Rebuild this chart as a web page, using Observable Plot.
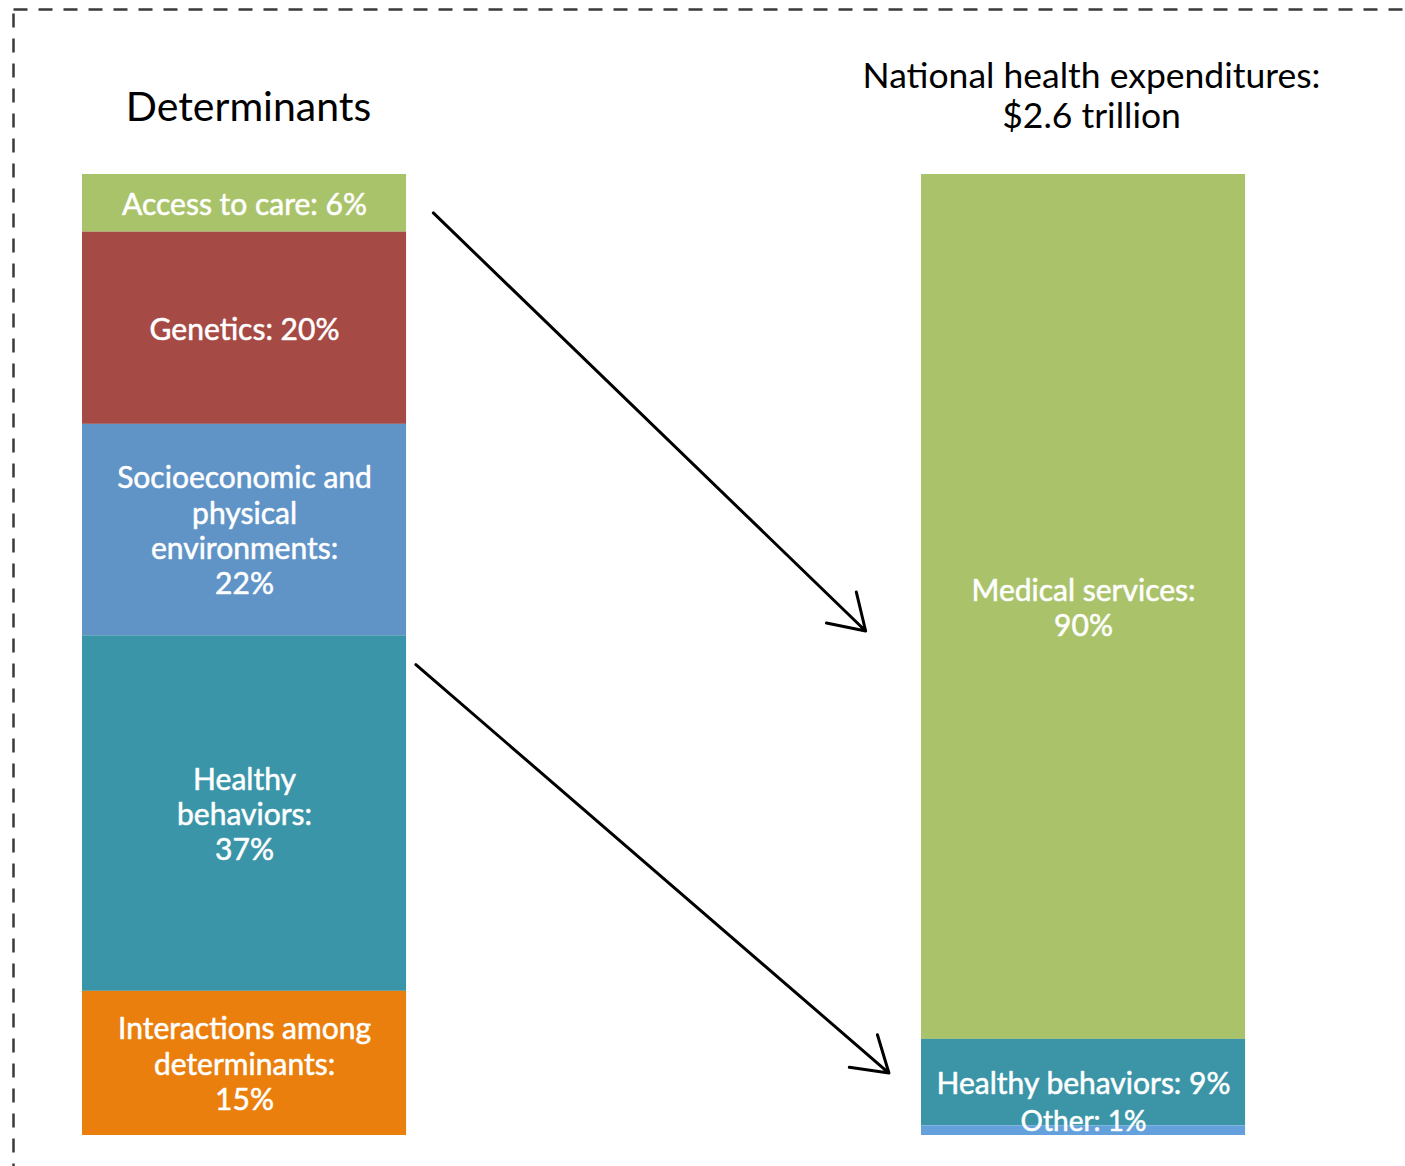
<!DOCTYPE html>
<html><head><meta charset="utf-8">
<script src="https://cdn.jsdelivr.net/npm/d3@7"></script>
<script src="https://cdn.jsdelivr.net/npm/@observablehq/plot@0.6"></script>
<style>body{margin:0;background:#fff;}</style>
</head><body><div id="chart"></div>
<script>
// ---- data ----
const groups = ["Determinants", "National health expenditures"];
const groupTitles = ["Determinants", "National health expenditures:\n$2.6 trillion"];

const detCategories = ["Access to care", "Genetics", "Socioeconomic and physical environments", "Healthy behaviors", "Interactions among determinants"];
const detValues = [6, 20, 22, 37, 15];
const detLabels = ["Access to care: 6%", "Genetics: 20%", "Socioeconomic and\nphysical\nenvironments:\n22%", "Healthy\nbehaviors:\n37%", "Interactions among\ndeterminants:\n15%"];
const detColors = ["#a9c36a", "#a54a45", "#6093c6", "#3b95a8", "#ea7f0d"];

const expCategories = ["Medical services", "Healthy behaviors", "Other"];
const expValues = [90, 9, 1];
const expLabels = ["Medical services:\n90%", "Healthy behaviors: 9%", "Other: 1%"];
const expColors = ["#aac36b", "#3b95a7", "#64a1dc"];

// arrows: percent position on the left stack -> percent position on the right stack
const arrowFromPct = [4, 51];
const arrowToPct = [47.5, 93.5];

// ---- layout ----
const W = 1405, H = 1166;
const mL = 82, mR = 159, mT = 174, mB = 31;
const BW = 0.2784;
const groupX = {[groups[0]]: 0, [groups[1]]: 0.7208};

function buildRows(group, cats, vals, labels, colors) {
  let acc = 0;
  return cats.map((c, i) => {
    const y1 = acc; acc += vals[i];
    const x1 = groupX[group];
    return {group, category: c, value: vals[i], label: labels[i], color: colors[i], x1, x2: x1 + BW, y1, y2: acc};
  });
}
const rows = [
  ...buildRows(groups[0], detCategories, detValues, detLabels, detColors),
  ...buildRows(groups[1], expCategories, expValues, expLabels, expColors)
];
const bigRows = rows.filter(d => d.value >= 3);
const smallRows = rows.filter(d => d.value < 3);

const arrows = arrowFromPct.map((p, i) => ({
  x1: BW + [0.023, 0.008][i],
  y1: p,
  x2: groupX[groups[1]] - [0.048, 0.028][i],
  y2: arrowToPct[i]
}));

const titles = groups.map((g, i) => ({x: groupX[g] + BW / 2, text: groupTitles[i]}));

const labelStyle = {fill: "white", fontSize: 30, lineHeight: 1.18, stroke: "white", strokeWidth: 0.7, strokeOpacity: 0.8};

const chart = Plot.plot({
  width: W, height: H,
  marginLeft: mL, marginRight: mR, marginTop: mT, marginBottom: mB,
  style: {fontFamily: "Lato, 'Open Sans', sans-serif", background: "#fff"},
  x: {domain: [0, 1], axis: null},
  y: {domain: [0, 100], reverse: true, axis: null},
  color: {type: "identity"},
  marks: [
    Plot.frame({stroke: "#3a3a3a", strokeWidth: 2.5, strokeDasharray: "14,11",
      insetLeft: 13 - mL, insetTop: 9 - mT, insetRight: -300, insetBottom: -300}),
    Plot.rect(rows, {x1: "x1", x2: "x2", y1: "y1", y2: "y2", fill: "color"}),
    Plot.text(bigRows, {x: d => (d.x1 + d.x2) / 2, y: d => (d.y1 + d.y2) / 2, text: "label", ...labelStyle}),
    Plot.text(smallRows, {x: d => (d.x1 + d.x2) / 2, y: "y2", text: "label", lineAnchor: "bottom", dy: -5, fontSize: 28, fill: "white", stroke: "white", strokeWidth: 0.7, strokeOpacity: 0.8}),
    Plot.arrow(arrows, {x1: "x1", y1: "y1", x2: "x2", y2: "y2", stroke: "black",
      strokeWidth: 3, headLength: 20, headAngle: 65, bend: 0}),
    Plot.text(titles.slice(0, 1), {x: "x", text: "text", frameAnchor: "top", dy: -67, dx: 4,
      fontSize: 41, fill: "black", lineAnchor: "middle"}),
    Plot.text(titles.slice(1), {x: "x", text: "text", frameAnchor: "top", dy: -79, dx: 8,
      fontSize: 35.5, fill: "black", lineAnchor: "middle", lineHeight: 1.12})
  ]
});
document.getElementById("chart").appendChild(chart);
</script>
</body></html>
